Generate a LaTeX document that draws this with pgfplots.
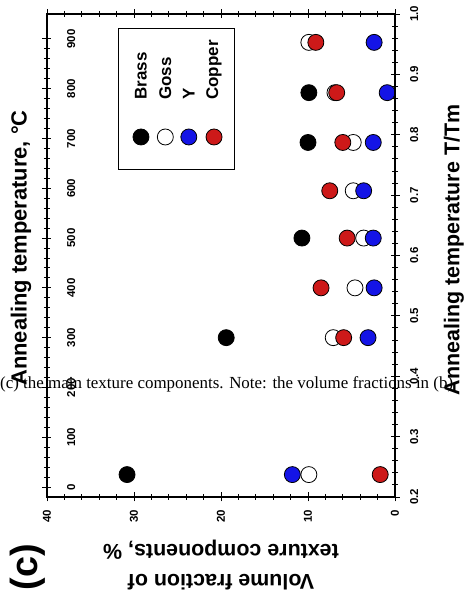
\documentclass[border=0pt]{standalone}
\usepackage{fontspec}
\setmainfont{Liberation Sans}
\newfontfamily\timesfont{Liberation Serif}
\usepackage{pgfplots}
\pgfplotsset{compat=1.18}
\definecolor{ymark}{RGB}{20,20,230}
\definecolor{cumark}{RGB}{205,25,25}

\pgfplotsset{
  frame/.style={
    at={(0,0)}, anchor=south west, scale only axis,
    width=348bp, height=483bp,
    tick align=center, major tick length=9bp, minor tick length=6bp,
    every tick/.style={black, line width=0.9bp},
    axis line style={line width=1.1bp},
    tick label style={font=\bfseries\fontsize{11.5}{13}\selectfont},
    /pgf/number format/assume math mode=true,
  },
  dot/.style={only marks, mark=*, mark size=8bp, mark options={draw=black, line width=0.8bp, fill=#1}},
}

\begin{document}
\begin{tikzpicture}[x=1bp,y=1bp]
\useasboundingbox (-47,-97) rectangle (419,497);
\begin{axis}[frame,
  x dir=reverse, xmin=0, xmax=40, ymin=-20, ymax=950,
  xtick={0,10,20,30,40}, minor x tick num=4,
  ytick={0,100,...,900}, minor y tick num=4,
  xtick pos=both, xticklabel pos=bottom, ytick pos=left,
  xticklabel style={yshift=-5bp, rotate=90, anchor=east},
  yticklabel style={xshift=21bp, rotate=90, anchor=north},
  clip=false]
% Brass, Goss, Y, Copper
\addplot[dot=black] coordinates {(30.8,25) (19.4,300) (10.7,500) (10.0,692) (9.9,792)};
\addplot[dot=white] coordinates {(9.9,25) (7.1,300) (4.6,400) (3.6,500) (4.8,595) (4.8,692) (6.9,792) (9.9,893)};
\addplot[dot=ymark] coordinates {(11.8,25) (3.1,300) (2.4,400) (2.5,500) (3.6,595) (2.5,692) (0.9,792) (2.4,893)};
\addplot[dot=cumark] coordinates {(1.7,25) (5.9,300) (8.5,400) (5.5,500) (7.5,595) (6.0,692) (6.7,792) (9.1,893)};
% legend
\draw[line width=1bp] (axis cs:31.8,920) rectangle (axis cs:18.4,638);
\addplot[dot=black] coordinates {(29.2,703)};
\addplot[dot=white] coordinates {(26.4,703)};
\addplot[dot=ymark] coordinates {(23.7,703)};
\addplot[dot=cumark] coordinates {(20.8,703)};
\begin{scope}[every node/.style={rotate=90, anchor=west, font=\bfseries\fontsize{17}{20}\selectfont}]
\node at (axis cs:29.2,771) {Brass};
\node at (axis cs:26.4,771) {Goss};
\node at (axis cs:23.7,771) {Y};
\node at (axis cs:20.8,771) {Copper};
\end{scope}
\end{axis}
\begin{axis}[frame,
  xmin=0, xmax=40, ymin=0.2, ymax=1.0,
  hide x axis, axis y line*=right,
  ytick={0.2,0.3,0.4,0.5,0.6,0.7,0.8,0.9,1.0}, minor y tick num=4,
  yticklabel style={xshift=7bp, rotate=90, anchor=north, /pgf/number format/.cd, fixed, fixed zerofill, precision=1}]
\end{axis}
\node[rotate=90, font=\bfseries\fontsize{22}{26}\selectfont] at (-26,249) {Annealing temperature, °C};
\node[rotate=90, inner sep=0pt, font=\bfseries\fontsize{21.5}{26}\selectfont] at (407,247) {Annealing temperature T/Tm};
\node[rotate=180, inner sep=0pt, font=\bfseries\fontsize{21.5}{26}\selectfont] at (174,-53) {texture components, \%};
\node[rotate=180, inner sep=0pt, font=\bfseries\fontsize{21.5}{26}\selectfont] at (174,-85) {Volume fraction of};
\node[rotate=90, font=\bfseries\fontsize{38}{40}\selectfont] at (-19,-70) {(c)};
\node[anchor=base west, inner sep=0pt, font=\timesfont\fontsize{17}{20}\selectfont] at (-47,108) {(c) the main texture components. Note: the volume fractions in (b)};
\end{tikzpicture}
\end{document}
